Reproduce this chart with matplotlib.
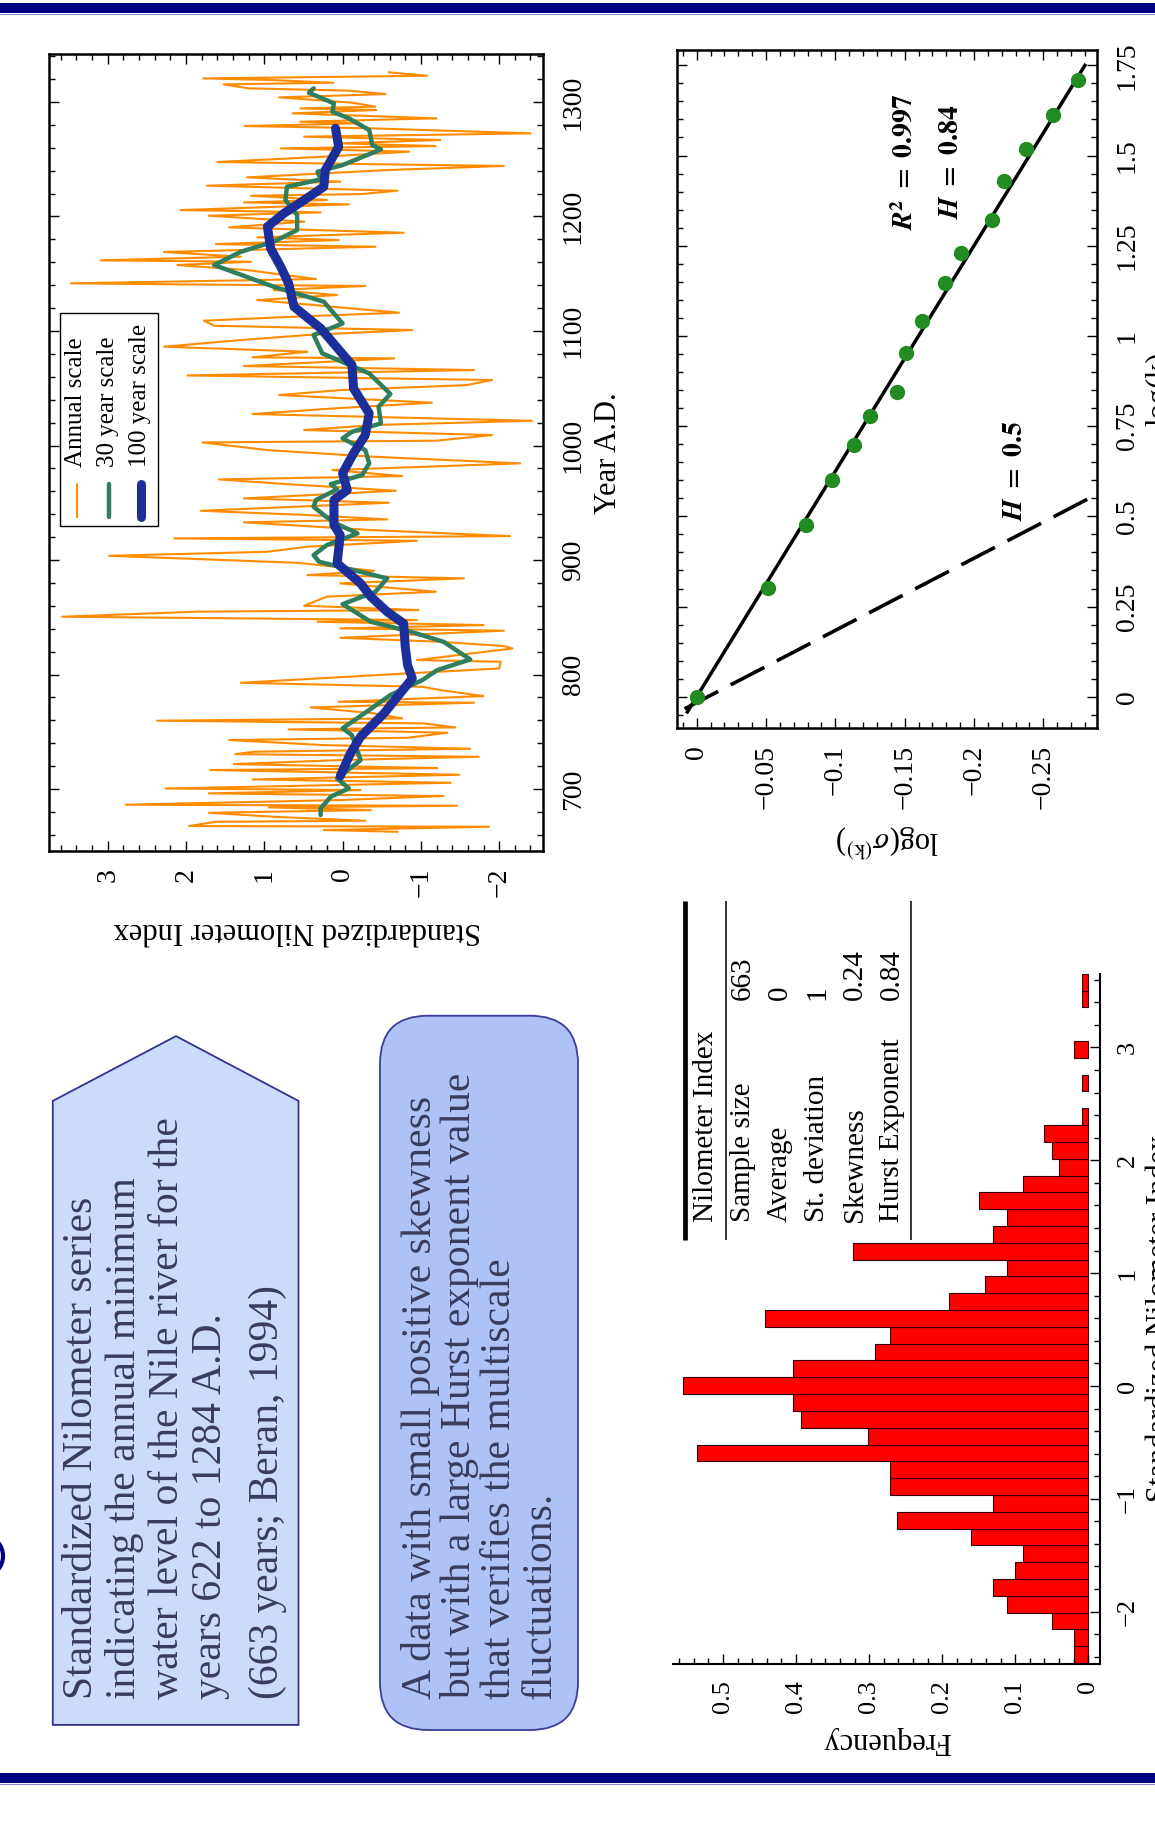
import numpy as np
import matplotlib.pyplot as plt
from matplotlib.patches import Polygon, FancyBboxPatch, Rectangle, Ellipse
from matplotlib.ticker import MultipleLocator

W, H = 1155, 1835

plt.rcParams['font.family'] = ['Liberation Serif', 'DejaVu Serif']
plt.rcParams['mathtext.fontset'] = 'stix'

# standardized Nilometer index, annual scale (year position, index)
annual_year = [662.7, 664.2, 667.1, 667.7, 671.4, 672.3, 675.8, 679.3, 681.6, 684.0,
               685.4, 686.3, 690.4, 693.9, 696.2, 699.1, 700.5, 705.5, 708.4, 712.5,
               716.6, 718.3, 721.8, 725.3, 728.2, 730.5, 732.6, 735.2, 738.4, 742.8,
               744.8, 749.2, 752.1, 753.8, 757.3, 759.7, 761.7, 766.1, 771.3, 775.4,
               776.2, 781.2, 786.4, 789.3, 792.8, 801.0, 805.3, 811.2, 812.6, 822.8,
               824.9, 828.6, 832.1, 838.3, 840.3, 843.2, 846.1, 847.6, 850.5, 854.9,
               856.3, 860.1, 868.0, 872.3, 879.6, 884.0, 886.9, 890.6, 897.6, 903.7,
               907.2, 911.6, 916.8, 918.9, 920.9, 926.2, 932.9, 935.5, 939.3, 943.0,
               950.0, 953.8, 960.5, 966.3, 970.4, 973.3, 978.6, 984.4, 990.2, 996.0,
               1002.7, 1004.2, 1009.1, 1013.5, 1017.9, 1021.6, 1027.5, 1032.4, 1037.4, 1044.1,
               1048.4, 1052.8, 1057.2, 1061.2, 1065.9, 1069.4, 1076.1, 1077.0, 1081.9, 1086.3,
               1092.1, 1096.5, 1100.8, 1104.6, 1109.0, 1112.5, 1116.0, 1122.7, 1127.0, 1131.4,
               1135.8, 1139.3, 1141.6, 1145.4, 1153.2, 1157.6, 1160.5, 1161.7, 1164.9, 1169.0,
               1173.6, 1175.9, 1179.4, 1181.8, 1185.8, 1190.5, 1195.5, 1200.7, 1203.6, 1205.6,
               1210.6, 1212.3, 1214.4, 1218.1, 1219.6, 1222.5, 1226.9, 1230.4, 1234.2, 1236.2,
               1240.6, 1244.1, 1247.6, 1252.2, 1256.6, 1259.5, 1261.5, 1263.9, 1266.8, 1269.7,
               1272.6, 1277.0, 1279.0, 1281.3, 1282.8, 1285.7, 1290.1, 1293.0, 1294.4, 1295.9,
               1299.4, 1304.0, 1306.9, 1309.9, 1311.9, 1315.4, 1316.8, 1319.2, 1320.6, 1322.9,
               1325.9]
annual_value = [-0.70, 0.24, -1.87, 1.96, 1.62, -0.29, 0.88, 1.71, -0.36, 0.94,
                -1.46, 2.77, 0.03, -1.29, 1.71, -0.23, 2.26, -1.38, 1.15, -1.49,
                1.69, -1.21, 1.39, 0.03, -1.74, 1.37, 1.13, -1.63, 0.24, 1.45,
                -0.83, -1.34, 0.69, -1.44, -1.04, 2.37, -0.76, -0.40, 0.41, -1.68,
                0.05, -1.80, -1.25, -1.02, 1.30, -0.83, -2.00, -2.02, -0.95, -2.17,
                -2.06, -1.25, 0.03, -2.06, 0.03, -1.80, 0.32, -0.95, 3.58, 1.86,
                -0.97, 0.49, 0.20, -1.19, 0.03, -1.55, 0.45, -0.40, 0.58, 2.98,
                0.96, 0.45, -0.95, 2.15, -2.14, -0.36, 1.26, -0.57, 0.45, 1.81,
                -0.59, 1.26, -0.68, 0.71, 1.58, -0.76, 0.13, -2.27, -0.40, 0.96,
                1.79, -1.19, -1.91, 0.49, -0.40, -2.42, 1.15, 0.11, -1.14, 0.81,
                0.03, -1.59, -1.91, 1.98, -1.68, 1.26, -0.66, 1.15, 0.45, 2.28,
                1.30, 0.45, -0.89, 1.64, 1.77, 0.62, -0.72, 0.37, 1.09, 0.07,
                0.88, -0.29, 3.47, 0.34, 1.22, 2.11, 1.17, 3.09, 1.30, 2.28,
                -0.42, 1.62, 0.05, 1.09, -0.78, 1.45, 0.49, 1.71, 0.28, 2.07,
                -0.08, 1.26, 0.20, 1.17, -0.25, -0.70, 1.73, 0.03, 1.22, 0.66,
                -0.59, -2.06, 1.60, 0.24, -0.85, 0.79, -1.19, 0.03, -1.25, 0.49,
                -2.40, -0.36, 1.25, -0.19, 0.54, -1.20, 0.64, -0.43, 0.54, -0.42,
                -0.12, 0.81, -0.55, -0.08, 1.20, 1.52, 0.12, 0.92, 1.78, -1.08,
                -0.59]

# 30 year scale
scale30_year = [677.3, 683.1, 693.3, 700.6, 709.3, 725.3, 747.1, 753.0, 771.9, 782.1,
                795.2, 803.9, 813.2, 828.6, 837.4, 846.1, 861.5, 872.3, 884.0, 898.5,
                904.3, 913.1, 923.3, 933.4, 946.5, 952.4, 961.7, 966.3, 974.2, 984.4,
                996.0, 1006.2, 1012.0, 1019.3, 1033.9, 1045.0, 1063.0, 1080.5, 1096.5, 1106.6,
                1125.6, 1138.7, 1157.6, 1169.2, 1178.0, 1188.2, 1201.3, 1214.4, 1226.0, 1232.4,
                1239.1, 1244.9, 1258.6, 1262.4, 1275.5, 1285.7, 1291.5, 1298.8, 1308.1, 1311.9]
scale30_value = [0.28, 0.28, 0.15, -0.08, 0.07, -0.23, -0.12, 0.00, -0.40, -0.61,
                 -1.02, -1.21, -1.63, -1.29, -0.87, -0.36, 0.00, -0.42, -0.57, 0.30,
                 0.37, 0.20, -0.19, 0.13, 0.37, 0.34, 0.07, 0.15, -0.25, -0.34,
                 -0.29, 0.00, -0.12, -0.49, -0.46, -0.61, -0.34, 0.26, 0.37, 0.00,
                 0.24, 0.88, 1.64, 1.30, 0.88, 0.58, 0.58, 0.73, 0.71, 0.28,
                 0.32, 0.00, -0.49, -0.38, -0.34, -0.08, 0.13, 0.11, 0.43, 0.37]

# 100 year scale
scale100_year = [711.3, 731.1, 745.7, 766.1, 780.6, 796.6, 808.3, 824.3, 844.6, 854.8,
                 868.0, 879.6, 897.1, 921.8, 930.5, 952.4, 961.1, 975.7, 993.1, 1009.1,
                 1028.0, 1049.9, 1070.3, 1102.3, 1121.2, 1141.6, 1156.1, 1172.2, 1191.1, 1202.7,
                 1214.4, 1226.0, 1240.6, 1253.7, 1260.9, 1277.0]
scale100_value = [0.03, -0.10, -0.23, -0.53, -0.70, -0.89, -0.83, -0.80, -0.78, -0.57,
                  -0.36, -0.23, 0.07, 0.03, 0.11, 0.11, -0.06, 0.00, -0.14, -0.29,
                  -0.34, -0.14, -0.12, 0.28, 0.62, 0.69, 0.79, 0.92, 0.96, 0.75,
                  0.49, 0.24, 0.22, 0.11, 0.05, 0.09]

# multiscale standard deviation
log_k = [0.0, 0.301, 0.477, 0.602, 0.698, 0.778, 0.845, 0.954, 1.041, 1.146,
         1.230, 1.322, 1.430, 1.519, 1.612, 1.708]
log_sigma = [0.0, -0.0512, -0.0786, -0.0974, -0.1137, -0.1252, -0.1442, -0.1509, -0.1627, -0.1791,
             -0.1904, -0.2130, -0.2216, -0.2377, -0.2569, -0.2752]
hurst_fit = 0.84
hurst_white = 0.5
r_squared = 0.997

# histogram (density), bins from the lowest value upward
bin_start = -2.456
bin_width = 0.149
hist_freq = [0.019, 0.019, 0.050, 0.111, 0.131, 0.100, 0.090, 0.161, 0.262, 0.131,
             0.272, 0.272, 0.535, 0.302, 0.393, 0.404, 0.555, 0.404, 0.292, 0.272,
             0.443, 0.191, 0.141, 0.111, 0.322, 0.131, 0.111, 0.150, 0.090, 0.040,
             0.050, 0.060, 0.009, 0.0, 0.009, 0.0, 0.019, 0.0, 0.0, 0.009, 0.009]

table_rows = ['Sample size', 'Average', 'St. deviation', 'Skewness', 'Hurst Exponent']
table_vals = ['663', '0', '1', '0.24', '0.84']

MINUS = '\u2212'


def fmt(v):
    s = f'{v:g}'
    return s.replace('-', MINUS)


def add_px_axes(fig, x0, y0, x1, y1, **kw):
    return fig.add_axes([x0 / W, 1 - y1 / H, (x1 - x0) / W, (y1 - y0) / H], **kw)


fig = plt.figure(figsize=(W / 100, H / 100), dpi=100)
fig.patch.set_facecolor('white')

# ---- time series ----
ax = add_px_axes(fig, 49, 54, 543, 851)
ax.plot(annual_value, annual_year, color='#ff8c00', lw=1.5, zorder=2)
ax.plot(scale30_value, scale30_year, color='#2f7f5f', lw=3.2, zorder=3,
        solid_capstyle='round')
ax.plot(scale100_value, scale100_year, color='#1c2e99', lw=6.5, zorder=4,
        solid_capstyle='round', solid_joinstyle='round')
ax.set_xlim(3.75, -2.56)
ax.set_ylim(645.9, 1341.9)
idx_ticks = [3, 2, 1, 0, -1, -2]
ax.set_xticks(idx_ticks, [fmt(t) for t in idx_ticks], rotation=90)
year_ticks = list(range(700, 1301, 100))
ax.yaxis.tick_right()
ax.set_yticks(year_ticks, [str(t) for t in year_ticks], rotation=90, va='center')
ax.xaxis.set_minor_locator(MultipleLocator(0.2))
ax.yaxis.set_minor_locator(MultipleLocator(20))
ax.tick_params(which='both', direction='in', top=True, bottom=True, left=True, right=True,
               labelsize=20, width=1)
ax.tick_params(which='major', length=7)
ax.tick_params(which='minor', length=4)
ax.tick_params(axis='x', pad=12)
ax.tick_params(axis='y', pad=13, labelleft=False, labelright=True)
for s in ax.spines.values():
    s.set_linewidth(1.8)

# ---- scaling of the standard deviation ----
ax2 = add_px_axes(fig, 676.7, 49.8, 1096.7, 728.4)
k_fit = np.array([-0.042, 1.75])
ax2.plot((hurst_fit - 1) * k_fit, k_fit, color='black', lw=2.5, zorder=2)
k_ref = np.array([-0.1, 0.6])
ax2.plot(-0.008 + (hurst_white - 1) * k_ref, k_ref, color='black', lw=2.6,
         dashes=(10.5, 3.9), zorder=2)
ax2.plot(log_sigma, log_k, 'o', color='#228b22', ms=10, mec='#228b22', zorder=3)
ax2.set_xlim(0.0144, -0.2885)
ax2.set_ylim(-0.0876, 1.793)
sig_ticks = [0, -0.05, -0.1, -0.15, -0.2, -0.25]
ax2.set_xticks(sig_ticks, [fmt(t) for t in sig_ticks], rotation=90)
k_ticks = [0, 0.25, 0.5, 0.75, 1, 1.25, 1.5, 1.75]
ax2.yaxis.tick_right()
ax2.set_yticks(k_ticks, [fmt(t) for t in k_ticks], rotation=90, va='center')
ax2.xaxis.set_minor_locator(MultipleLocator(0.01))
ax2.yaxis.set_minor_locator(MultipleLocator(0.05))
ax2.tick_params(which='both', direction='in', top=True, bottom=True, left=True, right=True,
                labelsize=20, width=1)
ax2.tick_params(which='major', length=7)
ax2.tick_params(which='minor', length=4)
ax2.tick_params(axis='x', pad=12)
ax2.tick_params(axis='y', pad=13, labelleft=False, labelright=True)
for s in ax2.spines.values():
    s.set_linewidth(1.8)

# ---- histogram ----
ax3 = add_px_axes(fig, 673.3, 973.9, 1100, 1663.5)
freq = np.array(hist_freq)
centers = bin_start + bin_width * (np.arange(len(freq)) + 0.5)
keep = freq > 0
ax3.barh(centers[keep], freq[keep], height=bin_width, left=0, color='#ff0000',
         edgecolor='#330000', lw=0.8)
ax3.set_xlim(0.568, -0.016)
ax3.set_ylim(-2.460, 3.652)
f_ticks = [0, 0.1, 0.2, 0.3, 0.4, 0.5]
ax3.set_xticks(f_ticks, [fmt(t) for t in f_ticks], rotation=90)
v_ticks = [-2, -1, 0, 1, 2, 3]
ax3.yaxis.tick_right()
ax3.set_yticks(v_ticks, [fmt(t) for t in v_ticks], rotation=90, va='center')
ax3.xaxis.set_minor_locator(MultipleLocator(0.02))
ax3.yaxis.set_minor_locator(MultipleLocator(0.2))
ax3.spines['top'].set_visible(False)
ax3.spines['left'].set_visible(False)
ax3.spines['right'].set_linewidth(1.5)
ax3.spines['bottom'].set_linewidth(1.5)
ax3.tick_params(which='both', direction='in', top=False, left=False, labelsize=19, width=1)
ax3.tick_params(which='major', length=7)
ax3.tick_params(which='minor', length=4)
ax3.tick_params(axis='x', pad=12)
ax3.tick_params(axis='y', pad=12, labelleft=False, labelright=True)

# ---- overlay in pixel coordinates: frame, boxes, legend, labels ----
ov = fig.add_axes([0, 0, 1, 1], zorder=10)
ov.set_xlim(0, W)
ov.set_ylim(H, 0)
ov.axis('off')

navy = '#000080'
ov.add_patch(Rectangle((0, 3), W, 10, color=navy, lw=0))
ov.plot([0, W], [13.8, 13.8], color='#8c8cd0', lw=0.8)
ov.add_patch(Rectangle((0, 1773), W, 10, color=navy, lw=0))
ov.plot([0, W], [1783.8, 1783.8], color='#8c8cd0', lw=0.8)
ov.add_patch(Ellipse((-10, 1556), 26, 34, fill=False, edgecolor=navy, lw=3))

# legend
ov.add_patch(Rectangle((60, 312.7), 98, 213.3, facecolor='white', edgecolor='black', lw=1))
for x, c, lw, lbl in [(76.7, '#ff8c00', 1.5, 'Annual scale'),
                      (109, '#2f7f5f', 3.2, '30 year scale'),
                      (141, '#1c2e99', 6.5, '100 year scale')]:
    ov.plot([x, x], [517, 484], color=c, lw=lw, solid_capstyle='round')
    ov.text(x - 1, 467, lbl, rotation=90, rotation_mode='anchor', ha='left', va='center',
            fontsize=18)

# axis labels
ov.text(608, 453, 'Year A.D.', rotation=90, ha='center', va='center', fontsize=22)
ov.text(297, 930, 'Standardized Nilometer Index', rotation=180, ha='center', va='center',
        fontsize=22)
ov.text(887, 840, r'log($\sigma^{(\mathrm{k})}$)', rotation=180, ha='center', va='center',
        fontsize=22)
ov.text(887, 1740, 'Frequency', rotation=180, ha='center', va='center', fontsize=22)
ov.text(1160, 389, 'log(k)', rotation=90, ha='center', va='center', fontsize=22)
ov.text(1160, 1318, 'Standardized Nilometer Index', rotation=90, ha='center', va='center',
        fontsize=22)

# fit annotations
ov.text(906, 162, r'$\boldsymbol{R}^{\mathbf{2}}\mathbf{\ =\ ' + f'{r_squared}' + '}$',
        rotation=90, ha='center', va='center', fontsize=20)
ov.text(952, 162, r'$\boldsymbol{H}\mathbf{\ =\ ' + f'{hurst_fit}' + '}$',
        rotation=90, ha='center', va='center', fontsize=20)
ov.text(1015, 471, r'$\boldsymbol{H}\mathbf{\ =\ ' + f'{hurst_white}' + '}$',
        rotation=90, ha='center', va='center', fontsize=20)

# statistics table
ov.plot([685, 685], [900.7, 1240], color='black', lw=3.4, solid_capstyle='butt')
ov.plot([726, 726], [900.7, 1240], color='black', lw=1.1, solid_capstyle='butt')
ov.plot([911, 911], [900.7, 1240], color='black', lw=1.1, solid_capstyle='butt')
ov.text(706, 1222, 'Nilometer Index', rotation=90, rotation_mode='anchor', ha='left',
        va='center', fontsize=21)
for i, (name, val) in enumerate(zip(table_rows, table_vals)):
    x = 743 + i * 37.2
    ov.text(x, 1222, name, rotation=90, rotation_mode='anchor', ha='left', va='center',
            fontsize=21)
    ov.text(x, 1000, val, rotation=90, rotation_mode='anchor', ha='left', va='center',
            fontsize=21)

# text boxes
text_col = '#3b3b5c'
ov.add_patch(Polygon([(52.8, 1724.9), (298.5, 1724.9), (298.5, 1100.9), (176, 1036.1),
                      (52.8, 1100.9)], closed=True, facecolor='#cddbfb',
                     edgecolor='#33338c', lw=1.3))
box1 = ['Standardized Nilometer series', 'indicating the annual minimum',
        'water level of the Nile river for the', 'years 622 to 1284 A.D.',
        '(663 years; Beran, 1994)']
for x, line in zip([82, 125, 168, 211, 268], box1):
    ov.text(x, 1699, line, rotation=90, rotation_mode='anchor', ha='left', va='center',
            fontsize=30, color=text_col)

ov.add_patch(FancyBboxPatch((380, 1015.7), 198, 714.3,
                            boxstyle='round,pad=0,rounding_size=48',
                            facecolor='#aec2f8', edgecolor='#3d3d99', lw=1.3))
box2 = ['A data with small positive skewness', 'but with a large Hurst exponent value',
        'that verifies the multiscale', 'fluctuations.']
for x, line in zip([420, 460, 500, 540], box2):
    ov.text(x, 1699, line, rotation=90, rotation_mode='anchor', ha='left', va='center',
            fontsize=30, color=text_col)

fig.savefig('out.png', dpi=100)
